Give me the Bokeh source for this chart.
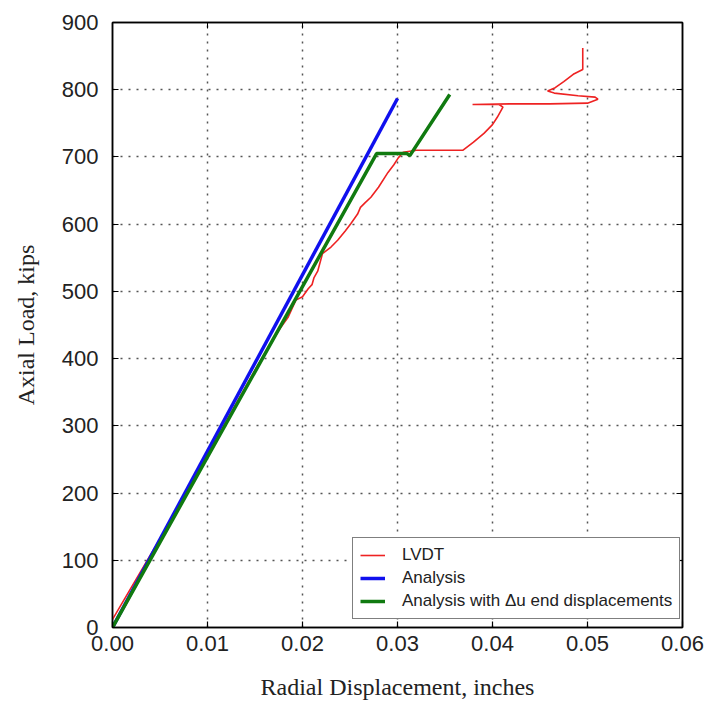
from bokeh.plotting import figure
from bokeh.models import (LinearAxis, FixedTicker, NumeralTickFormatter, Legend, LegendItem,
                          Range1d, CustomJSTickFormatter)
from bokeh.embed import file_html
from bokeh.resources import INLINE

# LVDT measured curve
lvdt_x = [0.0, 0.002, 0.004, 0.006, 0.008, 0.010, 0.0125, 0.015, 0.0165, 0.0175,
          0.0185, 0.0193, 0.0200, 0.0206, 0.0210, 0.0212, 0.0216, 0.0221, 0.0230, 0.0237,
          0.0245, 0.0251, 0.0258, 0.0261, 0.0266, 0.0272, 0.0280, 0.0290, 0.0296, 0.0301,
          0.0306, 0.0320, 0.0340, 0.0369, 0.0380, 0.0391, 0.0400, 0.0405, 0.0411, 0.0407,
          0.0379, 0.0420, 0.0460, 0.0500, 0.0511, 0.0508, 0.0490, 0.0465, 0.0458, 0.0466,
          0.0475, 0.0485, 0.0495, 0.0495, 0.0495]
lvdt_y = [12, 60, 108, 156, 205, 256, 320, 383, 418, 442,
          462, 487, 492, 504, 510, 520, 530, 556, 566, 576,
          590, 601, 615, 625, 632, 640, 655, 677, 688, 699,
          707, 710, 710, 710, 722, 735, 748, 759, 774, 778,
          778, 779, 779, 780, 786, 789, 791, 795, 798, 803,
          812, 823, 830, 845, 862]

# Analysis
ana_x = [0.0, 0.0300]
ana_y = [0, 787]

# Analysis with end displacements
ana2_x = [0.0, 0.0278, 0.0310, 0.0313, 0.0355]
ana2_y = [0, 705, 705, 702, 793]

x_ticks = [0.0, 0.01, 0.02, 0.03, 0.04, 0.05, 0.06]
y_ticks = [0, 100, 200, 300, 400, 500, 600, 700, 800, 900]

p = figure(width=709, height=704, output_backend="svg", toolbar_location=None,
           x_range=Range1d(0, 0.06), y_range=Range1d(0, 900),
           min_border_left=112, min_border_right=27, min_border_top=22, min_border_bottom=77)

p.outline_line_color = "black"
p.outline_line_width = 1.5
p.background_fill_color = "white"
p.border_fill_color = "white"

for ax in p.xaxis:
    ax.ticker = FixedTicker(ticks=x_ticks)
    ax.formatter = NumeralTickFormatter(format="0.00")
for ax in p.yaxis:
    ax.ticker = FixedTicker(ticks=y_ticks)

for ax in list(p.xaxis) + list(p.yaxis):
    ax.major_tick_in = 6
    ax.major_tick_out = 0
    ax.minor_tick_line_color = None
    ax.axis_line_color = "black"
    ax.axis_line_width = 1.5
    ax.major_tick_line_color = "black"
    ax.major_tick_line_width = 1.2
    ax.major_label_text_font = "Liberation Sans"
    ax.major_label_text_font_size = "22px"
    ax.major_label_text_color = "#222222"
    ax.axis_label_text_font = "Liberation Serif"
    ax.axis_label_text_font_size = "24px"
    ax.axis_label_text_font_style = "normal"
    ax.axis_label_text_color = "#222222"

p.xaxis.axis_label = "Radial Displacement, inches"
p.yaxis.axis_label = "Axial Load, kips"
p.xaxis.major_label_standoff = 8
p.yaxis.major_label_standoff = 14
p.xaxis.axis_label_standoff = 20
p.yaxis.axis_label_standoff = 20

blank = CustomJSTickFormatter(code="return ''")
top = LinearAxis(ticker=FixedTicker(ticks=x_ticks), formatter=blank,
                 major_tick_in=6, major_tick_out=0, minor_tick_line_color=None,
                 axis_line_color="black", axis_line_width=1.5, major_label_standoff=0,
                 major_label_text_font_size="1px")
right = LinearAxis(ticker=FixedTicker(ticks=y_ticks), formatter=blank,
                   major_tick_in=6, major_tick_out=0, minor_tick_line_color=None,
                   axis_line_color="black", axis_line_width=1.5, major_label_standoff=0,
                   major_label_text_font_size="1px")
p.add_layout(top, "above")
p.add_layout(right, "right")

p.grid.grid_line_color = "#555555"
p.grid.grid_line_dash = "2 6"
p.grid.grid_line_width = 1.5
p.xgrid.ticker = FixedTicker(ticks=x_ticks)
p.ygrid.ticker = FixedTicker(ticks=y_ticks)

r_lvdt = p.line(lvdt_x, lvdt_y, line_color="#ee2222", line_width=1.6)
r_ana = p.line(ana_x, ana_y, line_color="#1010ee", line_width=3.5)
r_ana2 = p.line(ana2_x, ana2_y, line_color="#107a10", line_width=3.5)

legend = Legend(items=[
    LegendItem(label="LVDT", renderers=[r_lvdt]),
    LegendItem(label="Analysis", renderers=[r_ana]),
    LegendItem(label="Analysis with \u0394u end displacements", renderers=[r_ana2]),
], location=(240, 8))
legend.label_text_font = "Liberation Sans"
legend.label_text_font_size = "17px"
legend.label_text_color = "#222222"
legend.border_line_color = "black"
legend.border_line_width = 1.5
legend.background_fill_alpha = 1.0
legend.glyph_width = 25
legend.glyph_height = 20
legend.label_height = 20
legend.spacing = 3
legend.padding = 7
legend.margin = 0
legend.label_standoff = 17
p.add_layout(legend, "center")

open("out.html", "w").write(file_html(p, INLINE))
